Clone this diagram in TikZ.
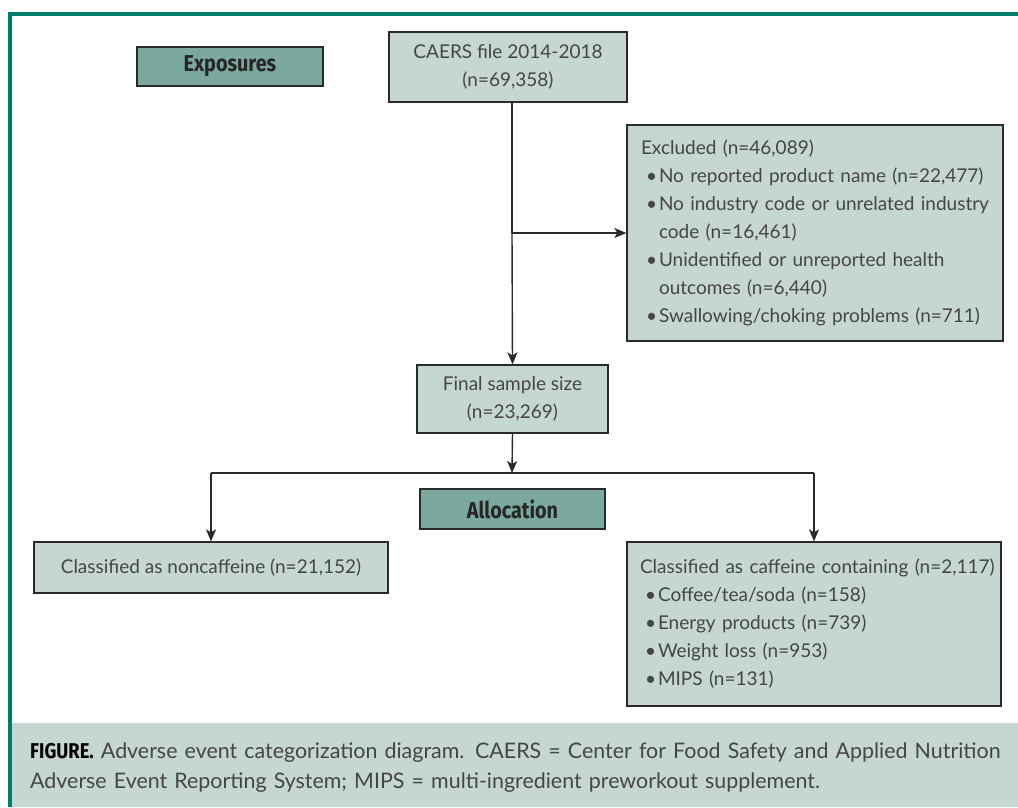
\documentclass[tikz,border=0pt]{standalone}
\usepackage{fontspec}
\setmainfont{Lato}
\newfontfamily\lblfont[FakeStretch=0.86]{Fira Sans}
\usetikzlibrary{arrows.meta}
\definecolor{teal}{HTML}{007D69}
\definecolor{boxfill}{HTML}{C6D6D2}
\definecolor{darkfill}{HTML}{7BA89F}
\definecolor{txt}{HTML}{454545}
\definecolor{ln}{HTML}{2A2A2A}
\newcommand{\bitem}[1]{\newline\hspace*{5pt}\makebox[13pt][l]{\textbullet}\mbox{#1}}
\newcommand{\contline}[1]{\newline\hspace*{18pt}\mbox{#1}}
\tikzset{
  lightbox/.style={draw=ln, line width=1.3pt, fill=boxfill, text=txt, inner sep=0pt, font=\fontsize{19}{28}\selectfont},
  labelbox/.style={draw=ln, line width=1.3pt, fill=darkfill, text=black!85, inner sep=0pt, font=\lblfont\bfseries\fontsize{23}{26}\selectfont},
  conn/.style={draw=ln, line width=1.4pt},
  arr/.style={conn, -{Stealth[length=12pt,width=10pt,inset=3pt]}}
}
\begin{document}
\begin{tikzpicture}[x=1pt,y=-1pt]
\useasboundingbox (0,0) rectangle (1018,807);
% frame and caption background
\fill[boxfill] (12,723) rectangle (1018,807);
\draw[teal, line width=3.5pt] (10,807) -- (10,14) -- (1018,14);
% nodes
\node[labelbox, minimum width=186pt, minimum height=39pt] (expo) at (230,66.5) {Exposures};
\node[lightbox, minimum width=238pt, minimum height=70pt, align=center] (caers) at (508,67) {CAERS file 2014-2018\\(n=69,358)};
\node[lightbox, minimum width=376pt, minimum height=216pt, text width=348pt, align=left] (excl) at (815,233) {%
\mbox{Excluded (n=46,089)}%
\bitem{No reported product name (n=22,477)}%
\bitem{No industry code or unrelated industry}\contline{code (n=16,461)}%
\bitem{Unidentified or unreported health}\contline{outcomes (n=6,440)}%
\bitem{Swallowing/choking problems (n=711)}};
\node[lightbox, minimum width=191pt, minimum height=68pt, align=center] (final) at (512.5,399) {Final sample size\\(n=23,269)};
\node[labelbox, minimum width=185pt, minimum height=40pt] (alloc) at (512.5,509) {Allocation};
\node[lightbox, minimum width=354pt, minimum height=51pt] (nonc) at (211,567.5) {Classified as noncaffeine (n=21,152)};
\node[lightbox, minimum width=374pt, minimum height=164pt, text width=348pt, align=left] (caff) at (814,624) {%
\mbox{Classified as caffeine containing (n=2,117)}%
\bitem{Coffee/tea/soda (n=158)}%
\bitem{Energy products (n=739)}%
\bitem{Weight loss (n=953)}%
\bitem{MIPS (n=131)}};
% connectors
\coordinate (top) at (512,102);
\coordinate (br) at (512,233);
\coordinate (split) at (512,473);
\coordinate (sl) at (211,473);
\coordinate (sr) at (814,473);
\draw[conn] (top) -- (br);
\draw[arr] (br) -- (br -| excl.west);
\draw[arr] (br) -- (final.north);
\draw[arr] (final.south) -- (split);
\draw[conn] (sl) -- (sr);
\draw[arr] (sl) -- (nonc.north);
\draw[arr] (sr) -- (caff.north);
% caption
\node[anchor=west, text width=1000pt, align=left, text=txt, inner sep=0pt, font=\fontsize{21.4}{30}\selectfont] (cap) at (30,768) {{\lblfont\bfseries\color{black}FIGURE.} Adverse event categorization diagram. CAERS = Center for Food Safety and Applied Nutrition\\Adverse Event Reporting System; MIPS = multi-ingredient preworkout supplement.};
\end{tikzpicture}
\end{document}
